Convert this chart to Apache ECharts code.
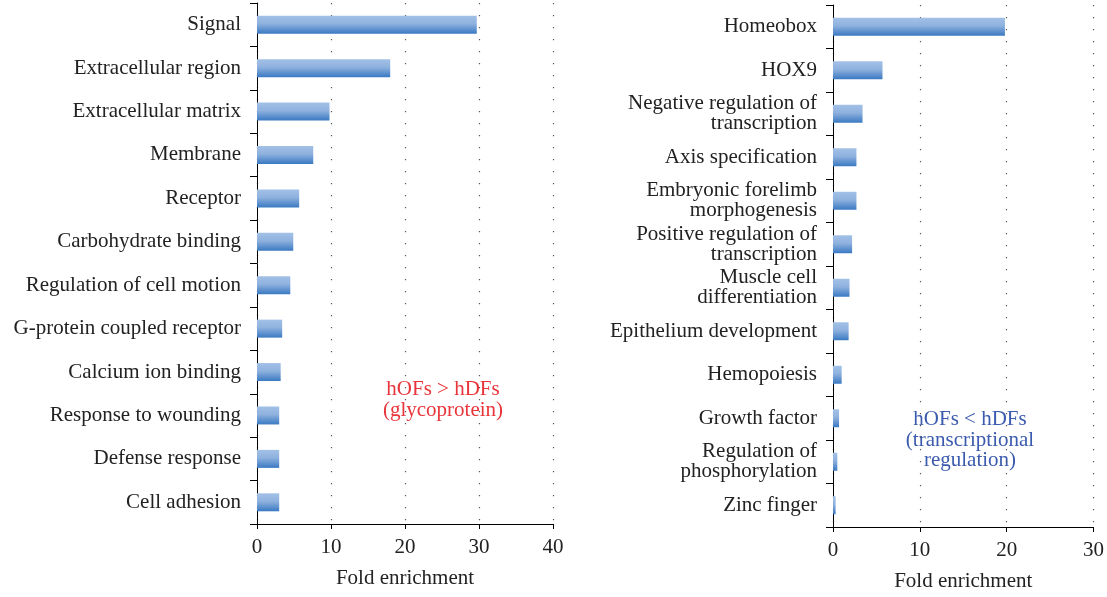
<!DOCTYPE html>
<html>
<head>
<meta charset="utf-8">
<script src="https://cdn.jsdelivr.net/npm/echarts@6/dist/echarts.min.js"></script>
<style>
  html, body { margin: 0; padding: 0; background: #fff; }
  #chart { width: 1107px; height: 597px; }
</style>
</head>
<body>
<div id="chart"></div>
<script>
// left panel: hOFs > hDFs
const leftTerms = [
  'Signal', 'Extracellular region', 'Extracellular matrix', 'Membrane', 'Receptor',
  'Carbohydrate binding', 'Regulation of cell motion', 'G-protein coupled receptor',
  'Calcium ion binding', 'Response to wounding', 'Defense response', 'Cell adhesion'
];
const leftFold = [29.7, 18.0, 9.8, 7.6, 5.7, 4.9, 4.5, 3.4, 3.2, 3.0, 3.0, 3.0];

// right panel: hOFs < hDFs
const rightTerms = [
  'Homeobox', 'HOX9', 'Negative regulation of\ntranscription', 'Axis specification',
  'Embryonic forelimb\nmorphogenesis', 'Positive regulation of\ntranscription',
  'Muscle cell\ndifferentiation', 'Epithelium development', 'Hemopoiesis',
  'Growth factor', 'Regulation of\nphosphorylation', 'Zinc finger'
];
const rightFold = [19.8, 5.7, 3.4, 2.7, 2.7, 2.2, 1.9, 1.8, 1.0, 0.7, 0.5, 0.3];

const FONT = '"Liberation Serif", "DejaVu Serif", serif';

const barColor = new echarts.graphic.LinearGradient(0, 0, 0, 1, [
  { offset: 0, color: '#a3c1e7' },
  { offset: 0.45, color: '#8eb1de' },
  { offset: 1, color: '#3a79c2' }
]);

function xAxisFor(gridIndex, max) {
  return {
    type: 'value', gridIndex: gridIndex, min: 0, max: max, interval: 10,
    name: 'Fold enrichment', nameLocation: 'middle', nameGap: 44,
    nameTextStyle: { fontFamily: FONT, fontSize: 21, color: '#222' },
    axisLine: { show: true, lineStyle: { color: '#000', width: 1 } },
    axisTick: { show: true, length: 5, lineStyle: { color: '#000' } },
    axisLabel: { fontFamily: FONT, fontSize: 21, color: '#222', margin: 13 },
    splitLine: { show: true, lineStyle: { color: '#555', width: 1.2, type: [1.2, 10.8] } }
  };
}

function yAxisFor(gridIndex, terms) {
  return {
    type: 'category', gridIndex: gridIndex, data: terms, inverse: true,
    axisLine: { show: true, lineStyle: { color: '#000', width: 1 } },
    axisTick: { show: true, length: 7, lineStyle: { color: '#000' } },
    axisLabel: { fontFamily: FONT, fontSize: 21, color: '#222', margin: 16, lineHeight: 20, align: 'right' },
    splitLine: { show: false }
  };
}

const chart = echarts.init(document.getElementById('chart'));
chart.setOption({
  animation: false,
  backgroundColor: '#fff',
  grid: [
    { left: 257, top: 3, width: 296, height: 521 },
    { left: 833, top: 5, width: 260.5, height: 522 }
  ],
  xAxis: [xAxisFor(0, 40), xAxisFor(1, 30)],
  yAxis: [yAxisFor(0, leftTerms), yAxisFor(1, rightTerms)],
  series: [
    { type: 'bar', xAxisIndex: 0, yAxisIndex: 0, data: leftFold, barWidth: 18, itemStyle: { color: barColor } },
    { type: 'bar', xAxisIndex: 1, yAxisIndex: 1, data: rightFold, barWidth: 18, itemStyle: { color: barColor } }
  ],
  graphic: [
    {
      type: 'text', x: 443, y: 378.5,
      style: {
        text: 'hOFs > hDFs\n(glycoprotein)', fontFamily: FONT, fontSize: 21, lineHeight: 21,
        fill: '#e8343a', align: 'center', verticalAlign: 'top'
      }
    },
    {
      type: 'text', x: 970, y: 409.5,
      style: {
        text: 'hOFs < hDFs\n(transcriptional\nregulation)', fontFamily: FONT, fontSize: 21, lineHeight: 20.5,
        fill: '#3b5bae', align: 'center', verticalAlign: 'top'
      }
    }
  ]
});
</script>
</body>
</html>
